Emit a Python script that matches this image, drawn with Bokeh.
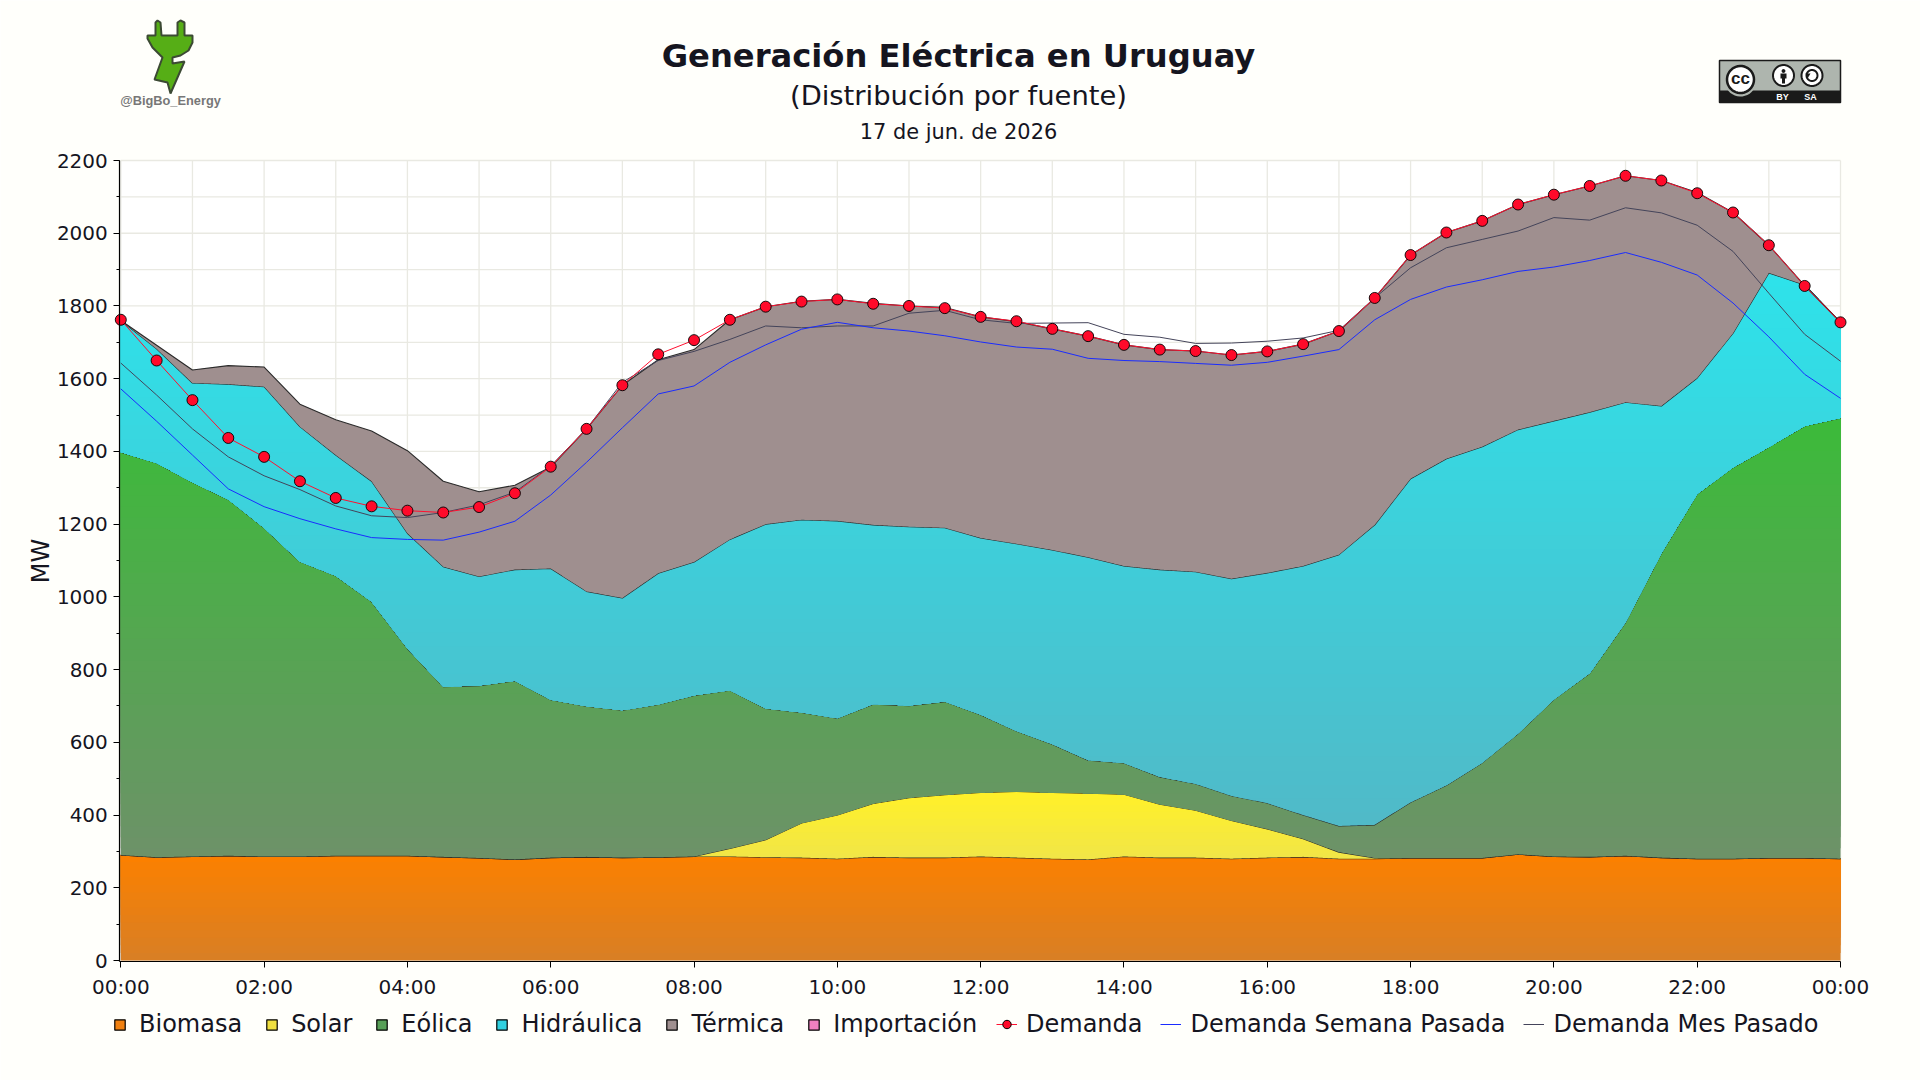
import numpy as np
from bokeh.plotting import figure
from bokeh.models import (Range1d, FixedTicker, Legend, LegendItem, Label, PolyAnnotation,
                          BoxAnnotation)
from bokeh.embed import file_html
from bokeh.resources import INLINE

title_text = "Generación Eléctrica en Uruguay"
subtitle_text = "(Distribución por fuente)"
date_text = "17 de jun. de 2026"
y_label = "MW"
legend_areas = ["Biomasa", "Solar", "Eólica", "Hidráulica", "Térmica", "Importación"]
legend_lines = ["Demanda", "Demanda Semana Pasada", "Demanda Mes Pasado"]
x_tick_labels = ["00:00", "02:00", "04:00", "06:00", "08:00", "10:00", "12:00",
                 "14:00", "16:00", "18:00", "20:00", "22:00", "00:00"]

# half-hourly samples, 00:00 .. 24:00 (stack tops, MW)
hours = [i * 0.5 for i in range(49)]
biomasa = [290, 284, 286, 288, 286, 286, 288, 288, 288, 285, 282, 278, 283, 285, 283, 284, 286,
           286, 284, 283, 280, 285, 283, 283, 286, 283, 280, 278, 286, 283, 283, 280, 283, 285,
           280, 280, 282, 282, 282, 292, 286, 285, 288, 283, 280, 280, 282, 282, 280]
solar = [290, 284, 286, 288, 286, 286, 288, 288, 288, 285, 282, 278, 283, 285, 283, 284, 286,
         308, 332, 378, 400, 432, 448, 456, 462, 465, 462, 460, 457, 430, 413, 385, 362, 335,
         298, 282, 282, 282, 282, 292, 286, 285, 288, 283, 280, 280, 282, 282, 280]
eolica = [1398, 1368, 1315, 1268, 1190, 1097, 1058, 987, 858, 753, 756, 769, 717, 699, 688, 704, 729,
          743, 693, 682, 666, 705, 701, 712, 676, 631, 595, 551, 543, 505, 486, 453, 433, 400,
          370, 373, 435, 482, 544, 624, 718, 790, 930, 1120, 1283, 1356, 1412, 1470, 1492]
hidraulica = [1760, 1682, 1588, 1585, 1578, 1468, 1390, 1318, 1175, 1083, 1056, 1075, 1078, 1015, 997, 1065, 1096,
              1158, 1200, 1212, 1209, 1198, 1193, 1190, 1162, 1146, 1129, 1109, 1085, 1075, 1069, 1050, 1066, 1085,
              1116, 1198, 1325, 1380, 1413, 1460, 1484, 1508, 1535, 1525, 1602, 1725, 1891, 1858, 1755]
importacion = [0] * 49
termica = [1760, 1692, 1624, 1636, 1632, 1530, 1487, 1456, 1402, 1318, 1289, 1307, 1357, 1462, 1582, 1652, 1680,
           1762, 1798, 1813, 1818, 1807, 1800, 1796, 1770, 1757, 1737, 1717, 1693, 1680, 1676, 1665, 1675, 1695,
           1731, 1822, 1940, 2002, 2034, 2079, 2106, 2130, 2158, 2145, 2112, 2057, 1967, 1856, 1755]
demanda = [1762, 1650, 1541, 1437, 1385, 1318, 1272, 1249, 1237, 1232, 1247, 1285, 1358, 1462, 1582, 1667, 1706,
           1762, 1798, 1812, 1818, 1806, 1800, 1794, 1770, 1758, 1737, 1717, 1693, 1680, 1676, 1665, 1675, 1695,
           1731, 1822, 1940, 2002, 2034, 2079, 2106, 2130, 2158, 2145, 2110, 2057, 1967, 1855, 1755]
semana = [1572, 1483, 1390, 1297, 1248, 1215, 1187, 1163, 1158, 1156, 1178, 1208, 1280, 1370, 1465, 1558, 1580,
          1645, 1693, 1736, 1755, 1740, 1731, 1718, 1701, 1687, 1681, 1656, 1650, 1647, 1642, 1637, 1645, 1662,
          1680, 1762, 1818, 1852, 1872, 1895, 1907, 1925, 1947, 1920, 1885, 1808, 1715, 1612, 1546]
mes = [1643, 1555, 1462, 1385, 1333, 1295, 1250, 1223, 1218, 1232, 1253, 1288, 1360, 1462, 1590, 1650, 1675,
       1708, 1745, 1740, 1745, 1745, 1780, 1788, 1762, 1752, 1753, 1754, 1722, 1714, 1697, 1698, 1703, 1712,
       1733, 1822, 1905, 1960, 1983, 2006, 2043, 2036, 2070, 2056, 2022, 1950, 1835, 1722, 1648]

BG = "#fffffb"
INK = "#15151f"
# colours (bottom of gradient, top of gradient, legend swatch)
c_bio = ("#d97f24", "#fb8000", "#f08010")
c_sol = ("#f2e646", "#fff02a", "#f0e040")
c_eol = ("#6d9268", "#3cba3a", "#58a058")
c_hid = ("#50bac8", "#2ee2ea", "#30d0e0")
c_ter = ("#9f8f8f", "#9f8f8f", "#a09090")
c_imp = "#f080c0"

# the frame fills the whole page so that nothing is clipped; the ranges place the chart inside it
W, H = 1920, 1080
LEFT_PX, ZERO_PX = 120.3, 960
PX_H = (1840 - LEFT_PX) / 24
PX_Y = 800 / 2200
x_ax = -1 / PX_H
y_ax = -1 / PX_Y

p = figure(frame_width=W, frame_height=H, min_border=0,
           x_range=Range1d(-LEFT_PX / PX_H, (W - LEFT_PX) / PX_H),
           y_range=Range1d(-(H - ZERO_PX) / PX_Y, ZERO_PX / PX_Y),
           output_backend="svg", toolbar_location=None,
           background_fill_color=BG, border_fill_color=BG, outline_line_color=None)

p.add_layout(BoxAnnotation(left=x_ax, right=24, bottom=y_ax, top=2200, fill_color="#ffffff", fill_alpha=1,
                           line_alpha=0, level="image"))

# axes
xa, ya = p.xaxis[0], p.yaxis[0]
xa.ticker = FixedTicker(ticks=[h * 2 for h in range(13)])
xa.major_label_overrides = {h * 2: t for h, t in enumerate(x_tick_labels)}
xa.bounds = (x_ax, 24)
xa.fixed_location = y_ax
xa.minor_tick_line_color = None
ya.ticker = FixedTicker(ticks=list(range(0, 2201, 200)), minor_ticks=list(range(0, 2201, 100)))
ya.bounds = (y_ax, 2200)
ya.fixed_location = x_ax
ya.axis_label = y_label
ya.axis_label_text_font = "DejaVu Sans"
ya.axis_label_text_font_size = "24px"
ya.axis_label_text_font_style = "normal"
ya.axis_label_text_color = INK
ya.axis_label_standoff = -1
for a in (xa, ya):
    a.major_label_text_font = "DejaVu Sans"
    a.major_label_text_font_size = "20px"
    a.major_label_text_color = INK
    a.axis_line_color = "#000000"
    a.axis_line_width = 1.2
    a.major_tick_line_color = "#000000"
    a.major_tick_in = 0
    a.major_tick_out = 6
xa.major_label_standoff = 7
ya.major_label_standoff = 6
ya.minor_tick_in = 0
ya.minor_tick_out = 3
ya.minor_tick_line_color = "#000000"

# grid lines stop at the chart's span, inside the full-page frame
GRID = "#e9e9e2"
p.xgrid.visible = False
p.ygrid.visible = False
grid_h = list(range(0, 25))
grid_mw = list(range(0, 2201, 100))
p.segment(grid_h, [0] * len(grid_h), grid_h, [2200] * len(grid_h), line_color=GRID, line_width=1.3, level="underlay")
p.segment([0] * len(grid_mw), grid_mw, [24] * len(grid_mw), grid_mw, line_color=GRID, line_width=1.3, level="underlay")

# areas, with a vertical gradient painted as overlapping bands
fine = np.linspace(0, 24, 1441)


def mix(a, b, t):
    ca = [int(a[i:i + 2], 16) for i in (1, 3, 5)]
    cb = [int(b[i:i + 2], 16) for i in (1, 3, 5)]
    return "#%02x%02x%02x" % tuple(int(round(u + (v - u) * t)) for u, v in zip(ca, cb))


def layer(lo, hi, colors, n):
    ylo = np.interp(fine, hours, lo)
    yhi = np.interp(fine, hours, hi)
    a, b = float(ylo.min()), float(yhi.max())
    for k in range(n):
        t = k / max(n - 1, 1)
        base = a + (b - a) * k / n
        y1 = np.maximum(ylo, base) if k else ylo
        y2 = np.maximum(yhi, y1)
        p.varea(fine, y1, y2, fill_color=mix(colors[0], colors[1], t), fill_alpha=1)
    p.line(hours, hi, line_color="#2a2a2a", line_width=1.1)


zero = [0] * 49
layer(zero, biomasa, c_bio, 14)
layer(biomasa, solar, c_sol, 10)
layer(solar, eolica, c_eol, 40)
layer(eolica, hidraulica, c_hid, 40)
layer(hidraulica, termica, c_ter, 1)

p.line(hours, mes, line_color="#44445a", line_width=1)
p.line(hours, semana, line_color="#1a2cff", line_width=1)
p.line(hours, demanda, line_color="#ff1030", line_width=1)
p.scatter(hours, demanda, size=11, marker="circle", fill_color="#ff0a2a", line_color="#000000", line_width=0.9)

# legend
nan = [float("nan")]
area_items = []
for name, col in zip(legend_areas, (c_bio[2], c_sol[2], c_eol[2], c_hid[2], c_ter[2], c_imp)):
    r = p.quad(left=nan, right=nan, top=nan, bottom=nan, fill_color=col, line_color="#000000", line_width=1.2)
    area_items.append(LegendItem(label=name, renderers=[r]))
ln1 = p.line(nan, nan, line_color="#ff1030", line_width=1)
mk1 = p.scatter(nan, nan, marker="circle", fill_color="#ff0a2a", line_color="#000000")
ln2 = p.line(nan, nan, line_color="#1a2cff", line_width=1)
ln3 = p.line(nan, nan, line_color="#44445a", line_width=1)
line_items = [LegendItem(label=legend_lines[0], renderers=[ln1, mk1]),
              LegendItem(label=legend_lines[1], renderers=[ln2]),
              LegendItem(label=legend_lines[2], renderers=[ln3])]


def mk_legend(items, gw, gh, left, spacing, standoff):
    lg = Legend(items=items, orientation="horizontal", location=(left, 42),
                glyph_width=gw, glyph_height=gh, spacing=spacing, label_standoff=standoff,
                padding=0, margin=0, border_line_color=None, background_fill_alpha=0,
                label_text_font="DejaVu Sans", label_text_font_size="24px", label_text_color=INK,
                label_height=26)
    p.add_layout(lg, "center")


mk_legend(area_items, 13, 13, 113, 23, 13)
mk_legend(line_items, 21, 26, 996, 18, 9)


# header texts (canvas units)
def label(text, x, y, size, style="normal", color=INK, font="DejaVu Sans", align="center"):
    p.add_layout(Label(x=x, y=y, x_units="canvas", y_units="canvas", text=text, level="overlay",
                       text_font=font, text_font_size=size, text_font_style=style,
                       text_color=color, text_align=align, text_baseline="middle"))


def poly(xs, ys, fill, line=None, lw=1):
    p.add_layout(PolyAnnotation(xs=list(xs), ys=list(ys), xs_units="canvas", ys_units="canvas",
                                fill_color=fill, fill_alpha=1, line_color=line, line_alpha=1, line_width=lw,
                                level="overlay"))


def disc(cx, cy, r, fill, line=None, lw=1):
    t = np.linspace(0, 2 * np.pi, 40)[:-1]
    poly(cx + r * np.cos(t), cy + r * np.sin(t), fill, line, lw)


label(title_text, 958, 55, "32.2px", "bold")
label(subtitle_text, 958, 95, "27.4px")
label(date_text, 958, 131, "20.9px")

# plug logo
poly([155, 157, 160, 161, 177, 177, 180, 184, 184, 192, 192, 188, 180, 172, 172, 184, 170, 167, 154, 162, 152, 147, 147, 155],
     [22, 20, 22, 35, 35, 22, 20, 22, 35, 35, 42, 50, 55, 57, 63, 61, 93, 82, 79, 57, 47, 38, 35, 35],
     "#56ae16", "#3c4a34", 2)
label("@BigBo_Energy", 170, 100, "12.8px", "bold", "#777777", "Liberation Sans")

# CC BY-SA badge
poly([1719, 1840, 1840, 1719], [60, 60, 102, 102], "#aeb5ae", "#1a1a1a", 1.5)
poly([1719, 1840, 1840, 1719], [90, 90, 102, 102], "#1a1a1a")
disc(1740, 80, 16, "#aeb5ae")
disc(1740, 79, 13.5, "#ffffff", "#1a1a1a", 2.5)
label("cc", 1740, 78, "17px", "bold", "#1a1a1a", "Liberation Sans")
disc(1783, 75, 10.5, "#ffffff", "#1a1a1a", 2)
disc(1783, 70.5, 1.9, "#1a1a1a")
poly([1780, 1786, 1786, 1784.5, 1784.5, 1781.5, 1781.5, 1780], [73, 73, 78, 78, 83, 83, 78, 78], "#1a1a1a")
disc(1811.5, 75, 10.5, "#ffffff", "#1a1a1a", 2)
disc(1811.5, 75, 5.5, "#ffffff", "#1a1a1a", 2)
poly([1805, 1810, 1807], [73, 73, 78], "#1a1a1a")
label("BY", 1782, 96, "9px", "bold", "#ffffff", "Liberation Sans")
label("SA", 1810, 96, "9px", "bold", "#ffffff", "Liberation Sans")

open("out.html", "w").write(file_html(p, INLINE))
